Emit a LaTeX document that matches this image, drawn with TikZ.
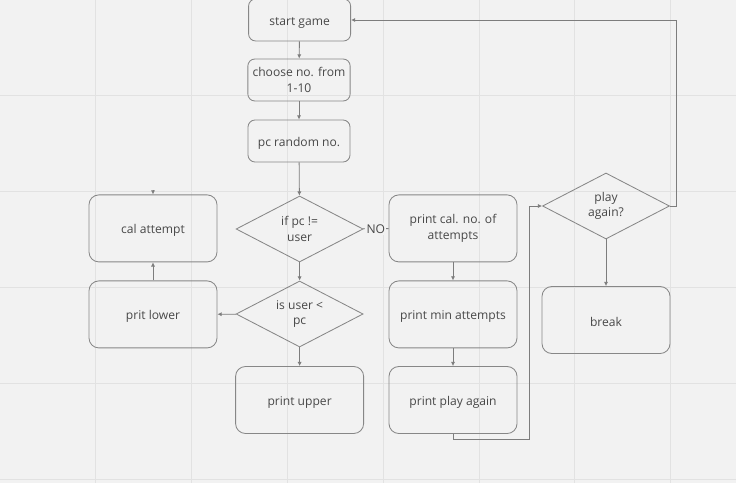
\documentclass[tikz,border=0pt]{standalone}
\usepackage{fontspec}
\setmainfont{Open Sans}
\usetikzlibrary{shapes.geometric,arrows.meta,positioning,calc}
\definecolor{canvasgray}{RGB}{242,242,242}
\definecolor{gridgray}{RGB}{226,226,226}
\definecolor{boxgray}{RGB}{135,135,135}
\definecolor{linegray}{RGB}{125,125,125}
\definecolor{textgray}{RGB}{72,72,72}

\begin{document}
\begin{tikzpicture}[
		font=\fontsize{8.6}{11}\selectfont,
		lowtext/.style={execute at begin node={\rule{0pt}{10pt}}},
		stepbox/.style={draw=boxgray, line width=0.6pt, rounded corners=7pt, minimum width=3.2cm, minimum height=1.675cm, align=center, text=textgray, lowtext},
		smallbox/.style={stepbox, minimum width=2.55cm, minimum height=1.05cm, rounded corners=5pt},
		decision/.style={draw=boxgray, line width=0.6pt, diamond, aspect=1.9, minimum width=3.175cm, minimum height=1.65cm, inner sep=0pt, align=center, text=textgray, lowtext},
		flow/.style={draw=linegray, line width=0.6pt, -{Latex[length=3pt,width=3pt]}}
	]
	% Canvas and grid
	\useasboundingbox (0,0) rectangle (18.4,-12.075);
	\fill[canvasgray] (0,0) rectangle (18.4,-12.075);
	\foreach \i in {1,...,7}
		\draw[gridgray, line width=0.7pt] (\i*2.395,0) -- (\i*2.395,-12.075);
	\foreach \j in {1,...,5}
		\draw[gridgray, line width=0.7pt] (0,-\j*2.395) -- (18.4,-\j*2.395);
	
	% Main column
	\node[smallbox] (start) at (7.49,-0.5) {start game};
	\node[smallbox] (choose) at (7.475,-2.0) {choose no. from\\1-10};
	\node[smallbox] (pcrand) at (7.475,-3.525) {pc random no.};
	\node[decision] (ifdiff) at (7.49,-5.725) {if pc !=\\user};
	\node[decision] (isless) at (7.49,-7.85) {is user <\\pc};
	\node[stepbox] (upper) at (7.49,-10.0) {print upper};
	
	% Left column
	\node[stepbox] (calatt) at (3.825,-5.71) {cal attempt};
	\node[stepbox] (lower) at (3.825,-7.86) {prit lower};
	
	% Result column
	\node[stepbox] (printcal) at (11.325,-5.71) {print cal. no. of\\attempts};
	\node[stepbox] (minatt) at (11.325,-7.86) {print min attempts};
	\node[stepbox] (playmsg) at (11.325,-10.0) {print play again};
	
	% Replay
	\node[decision] (playq) at (15.15,-5.15) {play\\again?};
	\node[stepbox] (break) at (15.15,-8.0) {break};
	
	% Connections
	\draw[flow] (start) -- (choose);
	\draw[flow] (choose) -- (pcrand);
	\draw[flow] (pcrand) -- (ifdiff);
	\draw[flow] (ifdiff) -- (isless);
	\draw[flow] (isless) -- (upper);
	\draw[flow] (isless) -- (lower);
	\draw[flow] (lower) -- (calatt);
	\coordinate (calin) at (3.825,-4.76);
	\draw[flow] (calin) -- (calatt);
	\draw[draw=linegray, line width=0.6pt] (ifdiff) -- node[fill=canvasgray, inner sep=1pt, text=textgray] {NO} (printcal);
	\draw[flow] (printcal) -- (minatt);
	\draw[flow] (minatt) -- (playmsg);
	\draw[flow] (playmsg.south) -- ++(0,-0.125) -| ($(playq.west)+(-0.325,0)$) -- (playq.west);
	\draw[flow] (playq) -- (break);
	\draw[flow] (playq.east) -- ++(0.15,0) |- (start.east);
\end{tikzpicture}
\end{document}
